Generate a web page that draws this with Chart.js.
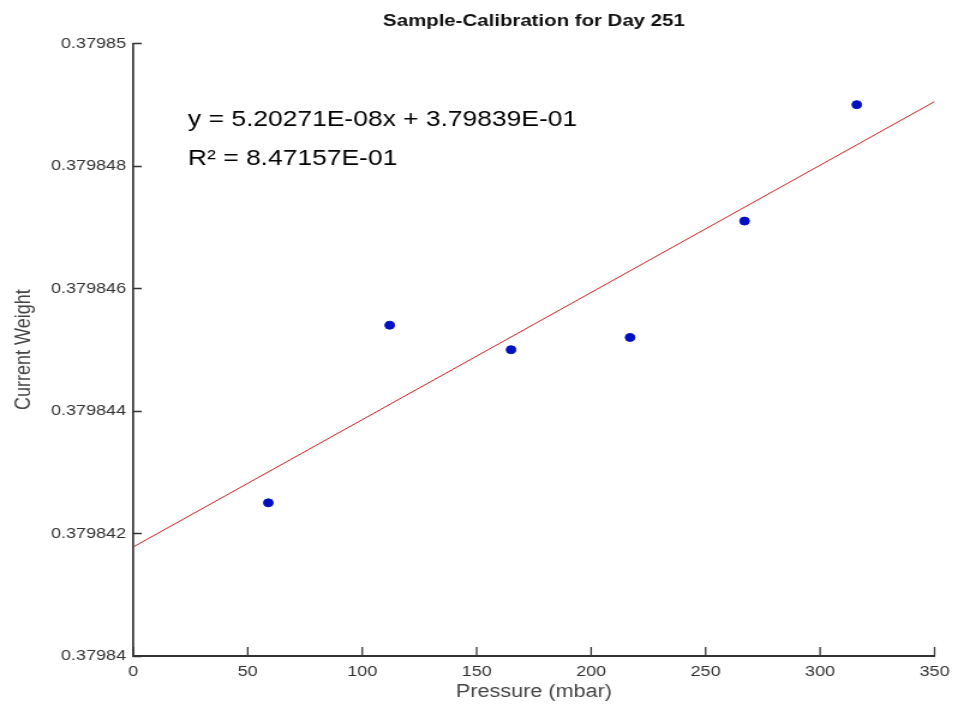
<!DOCTYPE html>
<html>
<head>
<meta charset="utf-8">
<script src="https://cdn.jsdelivr.net/npm/chart.js@4"></script>
<style>
  html, body { margin: 0; padding: 0; background: #fff; }
  #chart { display: block; }
</style>
</head>
<body>
<!-- the source picture is stretched sideways, so draw at 798 wide and let css stretch it to 958 -->
<canvas id="chart" width="798" height="713" style="width:958px;height:713px"></canvas>
<script>
var pressure = [59, 112, 165, 217, 267, 316];
var weight = [0.3798425, 0.3798454, 0.3798450, 0.3798452, 0.3798471, 0.3798490];
var fitX = [0, 350];
var fitY = [0.37984178, 0.37984905];
var xTickLabels = ['0', '50', '100', '150', '200', '250', '300', '350'];
var yTickLabels = ['0.37984', '0.379842', '0.379844', '0.379846', '0.379848', '0.37985'];
var equationLines = ['y = 5.20271E-08x + 3.79839E-01', 'R\u00b2 = 8.47157E-01'];

Chart.defaults.font.family = '"Liberation Sans", Arial, sans-serif';

var points = pressure.map(function (p, i) { return { x: p, y: weight[i] }; });
var fitLine = fitX.map(function (p, i) { return { x: p, y: fitY[i] }; });

// ticks point inward like the matlab axes
var innerTicks = {
    id: 'innerTicks',
    afterDraw: function (chart) {
        var ctx = chart.ctx;
        var xs = chart.scales.x;
        var ys = chart.scales.y;
        ctx.save();
        ctx.strokeStyle = '#333';
        ctx.lineWidth = 1.3;
        xs.ticks.forEach(function (t) {
            var px = xs.getPixelForValue(t.value);
            ctx.beginPath();
            ctx.moveTo(px, xs.top);
            ctx.lineTo(px, xs.top - 9);
            ctx.stroke();
        });
        ctx.lineWidth = 1.5;
        ys.ticks.forEach(function (t) {
            var py = Math.round(ys.getPixelForValue(t.value)) + 0.5;
            ctx.beginPath();
            ctx.moveTo(ys.right, py);
            ctx.lineTo(ys.right + 7, py);
            ctx.stroke();
        });
        ctx.restore();
    }
};

var equation = {
    id: 'equation',
    afterDraw: function (chart) {
        var ctx = chart.ctx;
        ctx.save();
        ctx.fillStyle = '#000';
        ctx.font = '22px "Liberation Sans", Arial, sans-serif';
        ctx.textBaseline = 'alphabetic';
        ctx.fillText(equationLines[0], 156.6, 126);
        ctx.fillText(equationLines[1], 156.6, 165);
        ctx.restore();
    }
};

var chart = new Chart(document.getElementById('chart'), {
    type: 'scatter',
    data: {
        datasets: [{
            label: 'Samples',
            data: points,
            backgroundColor: '#0010c0',
            borderColor: '#0010c0',
            pointRadius: 4,
            order: 0
        }, {
            label: 'Fit',
            data: fitLine,
            showLine: true,
            borderColor: '#cc1f1f',
            borderWidth: 1,
            pointRadius: 0,
            order: 1
        }]
    },
    options: {
        responsive: false,
        animation: false,
        devicePixelRatio: 1,
        layout: { padding: { left: 0, right: 15, top: 0, bottom: 0 } },
        plugins: {
            legend: { display: false },
            tooltip: { enabled: false },
            title: {
                display: true,
                text: 'Sample-Calibration for Day 251',
                fullSize: false,
                color: '#111',
                font: { size: 17, weight: 'bold' },
                padding: { top: 11, bottom: 12 }
            }
        },
        scales: {
            x: {
                type: 'linear',
                min: 0,
                max: 350,
                grid: { display: false, drawTicks: false },
                border: { color: '#333', width: 2 },
                ticks: {
                    stepSize: 50,
                    maxRotation: 0,
                    padding: 7,
                    color: '#333',
                    font: { size: 15 },
                    callback: function (v, i) { return xTickLabels[i]; }
                },
                title: {
                    display: true,
                    text: 'Pressure (mbar)',
                    color: '#444',
                    font: { size: 18 },
                    padding: { top: 0, bottom: 10 }
                },
                afterFit: function (s) { s.height = 57; }
            },
            y: {
                type: 'linear',
                min: 0.37984,
                max: 0.37985,
                grid: { display: false, drawTicks: false },
                border: { color: '#333', width: 1.7 },
                ticks: {
                    stepSize: 0.000002,
                    padding: 6,
                    color: '#333',
                    font: { size: 15 },
                    callback: function (v, i) { return yTickLabels[i]; }
                },
                title: {
                    display: true,
                    text: 'Current Weight',
                    color: '#444',
                    font: { size: 18 },
                    padding: { top: 9, bottom: 0 }
                },
                afterFit: function (s) { s.width = 111; }
            }
        }
    },
    plugins: [innerTicks, equation]
});
</script>
</body>
</html>
